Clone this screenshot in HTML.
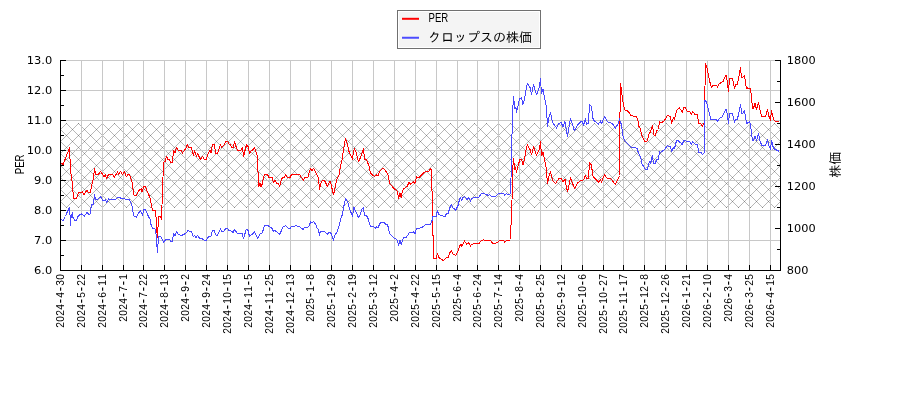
<!DOCTYPE html>
<html lang="ja"><head><meta charset="utf-8"><title>PER クロップスの株価</title>
<style>html,body{margin:0;padding:0;background:#fff}svg{display:block}.yt{font-family:"DejaVu Sans",sans-serif;font-size:11px;fill:#000}.xt{font-family:"Liberation Sans",sans-serif;font-size:11.6px;fill:#000}.lg{font-family:"Liberation Sans","IPAGothic",sans-serif;font-size:13px;fill:#000}.lm{font-family:"Liberation Sans",sans-serif;font-size:12px;fill:#000}</style></head><body>
<svg width="900" height="400" viewBox="0 0 900 400">
<rect x="0" y="0" width="900" height="400" fill="#fff"/>
<defs><clipPath id="hc"><rect x="61" y="123" width="719.5" height="85"/></clipPath><clipPath id="pc"><rect x="60" y="58" width="721" height="213"/></clipPath></defs>
<path d="M-30 123 L55 208 M-18 123 L67 208 M-6 123 L79 208 M6 123 L91 208 M18 123 L103 208 M30 123 L115 208 M42 123 L127 208 M54 123 L139 208 M55 123 L-30 208 M66 123 L151 208 M67 123 L-18 208 M78 123 L163 208 M79 123 L-6 208 M90 123 L175 208 M91 123 L6 208 M102 123 L187 208 M103 123 L18 208 M114 123 L199 208 M115 123 L30 208 M126 123 L211 208 M127 123 L42 208 M138 123 L223 208 M139 123 L54 208 M150 123 L235 208 M151 123 L66 208 M162 123 L247 208 M163 123 L78 208 M174 123 L259 208 M175 123 L90 208 M186 123 L271 208 M187 123 L102 208 M198 123 L283 208 M199 123 L114 208 M210 123 L295 208 M211 123 L126 208 M222 123 L307 208 M223 123 L138 208 M234 123 L319 208 M235 123 L150 208 M246 123 L331 208 M247 123 L162 208 M258 123 L343 208 M259 123 L174 208 M270 123 L355 208 M271 123 L186 208 M282 123 L367 208 M283 123 L198 208 M294 123 L379 208 M295 123 L210 208 M306 123 L391 208 M307 123 L222 208 M318 123 L403 208 M319 123 L234 208 M330 123 L415 208 M331 123 L246 208 M342 123 L427 208 M343 123 L258 208 M354 123 L439 208 M355 123 L270 208 M366 123 L451 208 M367 123 L282 208 M378 123 L463 208 M379 123 L294 208 M390 123 L475 208 M391 123 L306 208 M402 123 L487 208 M403 123 L318 208 M414 123 L499 208 M415 123 L330 208 M426 123 L511 208 M427 123 L342 208 M438 123 L523 208 M439 123 L354 208 M450 123 L535 208 M451 123 L366 208 M462 123 L547 208 M463 123 L378 208 M474 123 L559 208 M475 123 L390 208 M486 123 L571 208 M487 123 L402 208 M498 123 L583 208 M499 123 L414 208 M510 123 L595 208 M511 123 L426 208 M522 123 L607 208 M523 123 L438 208 M534 123 L619 208 M535 123 L450 208 M546 123 L631 208 M547 123 L462 208 M558 123 L643 208 M559 123 L474 208 M570 123 L655 208 M571 123 L486 208 M582 123 L667 208 M583 123 L498 208 M594 123 L679 208 M595 123 L510 208 M606 123 L691 208 M607 123 L522 208 M618 123 L703 208 M619 123 L534 208 M630 123 L715 208 M631 123 L546 208 M642 123 L727 208 M643 123 L558 208 M654 123 L739 208 M655 123 L570 208 M666 123 L751 208 M667 123 L582 208 M678 123 L763 208 M679 123 L594 208 M690 123 L775 208 M691 123 L606 208 M702 123 L787 208 M703 123 L618 208 M714 123 L799 208 M715 123 L630 208 M726 123 L811 208 M727 123 L642 208 M738 123 L823 208 M739 123 L654 208 M750 123 L835 208 M751 123 L666 208 M762 123 L847 208 M763 123 L678 208 M774 123 L859 208 M775 123 L690 208 M786 123 L871 208 M787 123 L702 208 M799 123 L714 208 M811 123 L726 208 M823 123 L738 208 M835 123 L750 208 M847 123 L762 208 M859 123 L774 208 M871 123 L786 208" stroke="#000" stroke-width="0.5" stroke-opacity="0.56" fill="none" clip-path="url(#hc)"/>
<path d="M61 60.5 H780 M61 90.5 H780 M61 120.5 H780 M61 150.5 H780 M61 180.5 H780 M61 210.5 H780 M61 240.5 H780 M81.5 60 V270 M102.5 60 V270 M123.5 60 V270 M143.5 60 V270 M164.5 60 V270 M185.5 60 V270 M206.5 60 V270 M227.5 60 V270 M248.5 60 V270 M269.5 60 V270 M290.5 60 V270 M310.5 60 V270 M331.5 60 V270 M352.5 60 V270 M373.5 60 V270 M394.5 60 V270 M415.5 60 V270 M436.5 60 V270 M457.5 60 V270 M477.5 60 V270 M498.5 60 V270 M519.5 60 V270 M540.5 60 V270 M561.5 60 V270 M582.5 60 V270 M603.5 60 V270 M623.5 60 V270 M644.5 60 V270 M665.5 60 V270 M686.5 60 V270 M707.5 60 V270 M728.5 60 V270 M749.5 60 V270 M770.5 60 V270" stroke="#c8c8c8" stroke-width="1" fill="none" shape-rendering="crispEdges"/>
<g clip-path="url(#pc)" fill="none" stroke-linejoin="round" stroke-linecap="butt" shape-rendering="crispEdges">
<polyline points="60.5,162.5 63,164.5 66,157 68.5,150.5 69,149 69.5,147.5 70,159 70.5,170 71.5,177 72.5,185 73.5,198.5 76.5,198.5 78.5,192.5 82.5,192 84,195 87,190 88,192 90.5,192 91.5,186 93,180 94,173 94.5,168.5 95.5,174 98.5,174 100.5,171.5 102,173.5 104,176.5 105.5,175 106.5,178.5 108.5,174.5 112.5,174.5 114.5,177 117.5,172 118.5,174 120.5,171.5 122.5,174.5 124.5,171.5 126.5,177 128,174.5 129.5,175 131,179 132.5,183 133.5,195 136.5,195 139.5,189.5 141.5,189 142,191.5 144,186.5 145.5,186.5 147.5,192 149.5,196.5 150.5,200 152.5,210 155.5,210 156,216.5 156.5,228 157.5,237.5 158,227 158.5,216.5 160.5,216.5 161.5,219.5 161.7,205 162.5,204.5 163,177 163.5,162.5 165,161.5 166.5,156.5 168,159.5 169.5,159.5 170.5,162.5 172.5,162 173.5,150.5 175,153 176.5,147.5 178.5,150.5 181.5,150.5 182.5,153 185.5,149 187.5,144.5 188.5,147.5 191.5,147.5 193.5,156 194.5,151 196.5,156 197.5,153.5 200.5,159.5 202.5,156.5 204,159 206.5,159 208.5,152.5 210,150.5 211,153 212.5,144.5 214.5,144.5 215.5,153.5 217.5,153.5 220.5,144.5 221.5,147.5 223.5,145.5 226,141.5 227.5,141.5 229,144 230.5,144.5 231.5,147.5 233.5,147.5 234.5,141.5 236.5,148 238,150.5 240.5,150.5 242.5,147.5 243.5,156.5 244.5,152.5 246.5,144.5 248,146.5 249.5,153.5 251,151 252.5,150 254.5,147.5 255.5,150 256.5,153.5 257.5,156.5 258,172 258.5,186.5 260,183.5 261,186.5 262.5,183.5 263.5,177.5 264.5,174.5 267.5,174.5 269,177.5 272,177.5 273.5,183 275,180.5 276.5,183 278.5,184 279.5,186.5 281.5,179.5 282.5,177.5 284.5,177 285.5,174.5 287.5,177.5 290,177.5 291.5,174.5 299.5,174.5 303.5,180.5 304.5,178 308,177.2 309,173 310.5,168.5 312,171 313.5,168.5 315,171 317,175 318.5,178.5 319.5,189.5 320.5,184 322.5,180.5 324.5,180.5 327.5,186.5 330,181 331,184 333.5,195 336.5,180.5 339,175 340.5,166 342,160 344,147 345.5,138.5 347,143 349,151.5 352.5,159.5 353.5,151 354.5,148.5 356.5,153.5 358.5,162 360.5,157.5 363.5,148.5 364.5,159 366.5,159.5 369,166 370.5,173 372,174.5 374.5,176.5 376.5,175 378,175.5 379.5,171.5 383,168 384.5,169.5 386.5,172 388.5,176 389.5,183.5 394.5,189 395.5,189.5 397.5,191.5 398.5,198.5 400,193 401.2,197.5 402.5,191 404,188.5 407,186.5 409,182.5 410.5,184 413.5,182 415,183.5 416.5,176.5 417.5,177.5 419.5,177.2 424,172.5 426.5,171.5 428.5,171.5 431,168.5 431.5,190 432.5,191.5 432.8,235.5 433.5,236 433.5,258.5 436.5,258.5 437.2,253.5 439,257.5 441.5,259.5 443.5,260.5 446.5,257.5 448,258 450,252.5 451.5,250.5 453,254 455.5,255.5 457.5,252.5 459.5,246.5 461,244 461.5,246.5 464.5,241 466.5,244 468.5,242.5 470.5,246 471.5,244.5 474.5,243.5 479,243.5 481,241 483.5,239.5 484.5,240.2 489.5,240.2 491.5,241.5 492.5,243.5 495.5,243.5 498,242 499.5,240.2 503.5,240.2 504.5,242.5 506.5,240.2 510,240 510.5,226 511.5,225.5 512,200 512.5,172 513.5,159 515,170 515.5,167.5 516.5,172.5 518.5,164 520,159.5 521.5,159.5 523,165 524.5,159.5 526.5,147.5 527.5,145 530,149.5 531.5,154.5 533.5,147 536.5,155.5 539.5,148.5 540.5,142 541.5,156 543,152.5 544.5,159.5 546,166.5 547.5,184 548.5,177.5 550.5,171.5 552.5,180.5 555.5,183.5 558.5,179 561,178.5 563,181.5 565,179.5 567.5,192 570.5,177.5 574.5,188.5 577.5,183 580.5,180.5 583.5,180 585.5,175.5 586.5,179 588.5,178.5 589,170 589.8,162.5 591.5,165.5 592.8,175.5 594.5,178.5 595.5,179 598.5,182 600.5,179.5 601.5,182 604.5,174.5 607.5,179 610.5,178.5 615.5,184.5 617,181 618.5,178.5 619.5,175.5 619.7,130 620.5,84 621.5,89.5 622.5,99.5 623.5,105 625,110 626.5,110 629.5,113 630.5,115 632.5,116 635.5,116 637.5,118.5 639,126.5 640,128 642,136 643.5,139 645,141.5 647,141.5 649,134 650.5,132 652.5,125.5 654,135 655.5,135 656.5,131 658.5,129.5 659.5,121.5 661,123 664.5,120.5 667.5,115.5 670.5,116.5 671.5,123.5 673.5,118 674.5,119.5 676.5,110.5 679.5,108 682.5,112.5 683.5,107.5 685.5,107.5 687,111 689.5,111.5 691.5,114 692.5,111.5 695,114.5 697.5,114.5 698.5,124 700.5,123.5 702.5,126.5 703.5,124 704.5,124.5 704.8,94.5 705.5,64 707,68 708.5,75.5 710,82.5 711.5,87.5 713.5,85 716.5,85 717.5,87.5 719,84 723,81.5 725.5,75.5 726.5,75.5 728.5,91.5 729.5,79 732.5,78.5 734.5,88.5 735.5,84.5 737.5,84 740.5,67.5 741.5,78 744.5,75.5 746.5,89 747.5,88 750,88.5 751.5,95 752,102.5 752.7,108.5 753.5,108 755,103.5 756.5,109.5 758.5,102.5 760,110 762,117 763.5,116.5 765.5,116.5 767.5,109.5 768.5,115 770.5,120.5 771.5,110.5 773.5,119.5 775.5,121.5 778.5,121.5 779.5,122.5" stroke="#ff0000" stroke-width="1"/>
<polyline points="60.5,219 63,220.5 65.5,216.5 67,212.5 69.5,207.5 70,215 70.5,225.5 71,218 72.5,212.5 73,217.5 75,220.5 76.5,220 78.5,215.5 81.5,214 82.5,214.5 84.5,216 87,212.5 88.5,214 90,214 91.5,205 93.5,204 94.5,194.5 95.5,199 97,199.5 100.5,197 103.5,201 105.5,200 106.5,202.5 108.5,199 112,199.5 114.5,200 118,197.5 120,197.5 121.5,199 124,198.5 126.5,200 128,199 129.5,200 131,203 132.5,208 133.5,216 135,216 136.5,217 138,214 140.5,210.5 142.5,215 144,209.5 145.5,209.5 147.5,214.5 149,217.5 150,218.5 151,224.5 152.5,228.5 155,229 156,234 156.5,246.5 157.2,245 157.7,253 158.3,237 159,236.5 160.5,236.5 162,239 163.5,242.5 166,239.5 169.5,239.5 171,241.5 172.5,241 173.5,234 175,236 176.5,231.5 178,234 181,235.5 184,234.5 186,233 188,230.5 189.5,231.5 191.5,231.5 193.5,237 194.5,235.5 196,237.5 197.5,235.5 200,239 202,238.5 204,240 206.5,240 209,236 211,236 212.5,230.5 214.5,230.5 215.5,235 217.5,235 220.5,229 222,232 223.5,231.5 226,228.5 227.5,228.5 229,230.5 230.5,230.5 233,232.5 234.5,229.5 237.5,233.5 242,233.5 243.5,238.5 245,233.5 246.3,229 248,230.5 249.5,236.5 251.5,234.5 252.5,234 254.5,231.5 257.5,238.5 260,234 262,233 263,230.5 264.5,225.5 267.5,225.5 269.5,226.5 272,228.5 273.5,231.5 275,230.5 277,232 279.5,234.5 281,231.5 282.5,227.5 285.5,225.5 288.5,228.5 290,228.5 291.5,226.5 294,226.5 296,225.5 297.5,226.5 299.5,226.5 303,229.5 304.5,227.5 307.5,227.5 309.5,225.5 310.5,221.5 312,222.5 313.5,221.5 315.5,224 317,228 318.5,229.5 319.5,235.5 320,232.5 321.5,231.3 324.5,231.3 327.5,234.5 328.5,232.5 330.5,232.5 331.5,234.5 333.5,240.5 334.5,235.5 336.5,233 339.5,225 340.5,219 342.5,214.5 344,205.5 345.5,199 347.5,201.5 349.5,208.5 352.5,216.5 354,207.5 358.5,217.5 360,215 362,209 363.5,207.5 364.5,215.5 366.5,215.5 368,218.5 370.5,226.5 373.5,226.5 375.5,228.5 376.5,226.5 378,227.5 380,223.5 382,222 383.5,222 385.5,224 387,224.5 388.5,227.5 389.5,233.5 394,238 396,239 397.5,240.5 398.5,245.5 400,240.5 401.2,244.5 402.5,240 404,237.5 406.5,237 409.5,232.5 411.5,233 413.5,232 415,233.5 416.5,228.5 419,228.5 422.5,227 425,225 427,224.5 428.5,225 430.5,224 431.8,221.5 433,216 436,216.5 437.5,210.5 439,214.5 441.5,215.5 445,216.5 446.5,213.5 448,213.5 450,207.5 451.5,204.5 453,208 454.5,208.5 455.5,210.5 458,205.5 459.5,199.5 460.5,197.5 461.5,201 463,197.5 464.5,196.5 467,199.5 468.5,197.5 470.5,201 471.5,198.5 475,197.2 479,197.2 481,194 483,193.2 486.5,194.5 488.5,195.5 489.5,194.5 491.5,196.5 495.5,196.5 498.5,193.5 503.5,193.5 504.5,195 506.5,193.5 507.5,194.5 510.5,194 510.8,178 511.5,177.5 512,135 512.5,113.5 513.5,97 515,109 516,107.5 516.5,112.5 518.5,103.5 519.5,99 521.5,97.5 523,104.5 524.5,99 526.5,86.5 527.5,83.5 530,87.5 531.5,94.5 533.5,84.5 536.5,95 538,91 539.5,86 540.5,79 541.5,93.5 543,89.5 544.5,97.5 546.5,108 547.5,127 548.5,119 550.5,112.5 552.5,122.5 556.5,128 558.5,124 561,122 563,127 565,121.5 567.5,136.5 570.5,118.5 574.5,131 577.5,125 580.5,122 582,121.5 583.5,125 585.5,119 586.5,124.5 588.5,123 589,113.5 589.5,104.5 591.5,106.5 593,118.5 594.5,121.5 595.5,121.5 598.5,124 600.5,121 601.5,124 604.5,116.5 607.5,122 610.5,122.5 612.5,124 615.5,128 618.5,123 619.7,118.5 620.5,124 621.5,123.5 622.5,134.5 623.5,138 625,141 626.5,142.5 630,146 632.5,148 634.5,147.5 637,148.5 638.5,153 640.5,157 642,164 644.5,168 645.5,169.5 647.5,169.5 648.5,164 649.5,162 650.5,163.5 652.5,155.5 653.5,163.5 655.5,163.5 656.5,159.5 658.5,159.5 659.5,151.5 660.5,152.5 664.5,149.5 667.5,145.5 669,146.5 670.5,146.5 671.5,152 673.5,147.5 674.5,148.5 676.5,140.5 678,140.5 679.5,142 680.5,142 682,144.5 684,140.5 685.5,140.5 686.5,142 689.5,141.5 691.5,144 692.5,142 695.5,144.5 697.5,144.5 698.5,152 700.5,152 702.5,154.5 704.5,152.5 704.7,125 705,100 706.5,102 708,108 709.5,114 711,120 712.5,119.5 716.5,119.5 717.5,121.5 719.5,118.5 722.5,116.5 725.5,109.5 726.5,110 728.5,123.5 729.5,113.5 732.5,113.5 734.5,122.5 735.5,119 737.5,119 740.5,104.5 742,114 744.5,111 746.5,123.5 749.5,122 750.5,124.5 751.5,134 752.5,140 753.5,140 755,136 756.5,141 758.5,133.5 760,141 762,146 765.5,145.5 767.5,139.5 768.5,144.5 770.5,149 771.5,140.5 773.5,148.5 775.5,149.5 779.5,151.5" stroke="#4848ff" stroke-width="1"/>
</g>
<path d="M60.5 60 V271 M780.5 60 V271 M60 270.5 H781 M61 60.5 H66 M61 90.5 H66 M61 120.5 H66 M61 150.5 H66 M61 180.5 H66 M61 210.5 H66 M61 240.5 H66 M61 270.5 H66 M61 75.5 H64 M61 105.5 H64 M61 135.5 H64 M61 165.5 H64 M61 195.5 H64 M61 225.5 H64 M61 255.5 H64 M775 60.5 H780 M775 102.5 H780 M775 144.5 H780 M775 186.5 H780 M775 228.5 H780 M775 270.5 H780 M777 81.5 H780 M777 123.5 H780 M777 165.5 H780 M777 207.5 H780 M777 249.5 H780 M60.5 265 V270 M81.5 265 V270 M102.5 265 V270 M123.5 265 V270 M143.5 265 V270 M164.5 265 V270 M185.5 265 V270 M206.5 265 V270 M227.5 265 V270 M248.5 265 V270 M269.5 265 V270 M290.5 265 V270 M310.5 265 V270 M331.5 265 V270 M352.5 265 V270 M373.5 265 V270 M394.5 265 V270 M415.5 265 V270 M436.5 265 V270 M457.5 265 V270 M477.5 265 V270 M498.5 265 V270 M519.5 265 V270 M540.5 265 V270 M561.5 265 V270 M582.5 265 V270 M603.5 265 V270 M623.5 265 V270 M644.5 265 V270 M665.5 265 V270 M686.5 265 V270 M707.5 265 V270 M728.5 265 V270 M749.5 265 V270 M770.5 265 V270" stroke="#000" stroke-width="1" fill="none" shape-rendering="crispEdges"/>
<text class="yt" transform="translate(52.2,64) scale(1.04,1)" text-anchor="end">13.0</text>
<text class="yt" transform="translate(52.2,94) scale(1.04,1)" text-anchor="end">12.0</text>
<text class="yt" transform="translate(52.2,124) scale(1.04,1)" text-anchor="end">11.0</text>
<text class="yt" transform="translate(52.2,154) scale(1.04,1)" text-anchor="end">10.0</text>
<text class="yt" transform="translate(52.2,184) scale(1.04,1)" text-anchor="end">9.0</text>
<text class="yt" transform="translate(52.2,214) scale(1.04,1)" text-anchor="end">8.0</text>
<text class="yt" transform="translate(52.2,244) scale(1.04,1)" text-anchor="end">7.0</text>
<text class="yt" transform="translate(52.2,274) scale(1.04,1)" text-anchor="end">6.0</text>
<text class="yt" transform="translate(786.8,64) scale(1.03,1)">1800</text>
<text class="yt" transform="translate(786.8,106) scale(1.03,1)">1600</text>
<text class="yt" transform="translate(786.8,148) scale(1.03,1)">1400</text>
<text class="yt" transform="translate(786.8,190) scale(1.03,1)">1200</text>
<text class="yt" transform="translate(786.8,232) scale(1.03,1)">1000</text>
<text class="yt" transform="translate(786.8,274) scale(1.03,1)">800</text>
<text class="xt" transform="translate(63.7,274) rotate(-90) scale(0.88,1)" text-anchor="middle" x="-57.95 -51.14 -44.32 -37.50 -30.68 -23.86 -17.05 -10.23 -3.41">2024<tspan font-size="15" dy="0.9">-</tspan><tspan dy="-0.9">4</tspan><tspan font-size="15" dy="0.9">-</tspan><tspan dy="-0.9">30</tspan></text>
<text class="xt" transform="translate(84.7,274) rotate(-90) scale(0.88,1)" text-anchor="middle" x="-57.95 -51.14 -44.32 -37.50 -30.68 -23.86 -17.05 -10.23 -3.41">2024<tspan font-size="15" dy="0.9">-</tspan><tspan dy="-0.9">5</tspan><tspan font-size="15" dy="0.9">-</tspan><tspan dy="-0.9">22</tspan></text>
<text class="xt" transform="translate(105.7,274) rotate(-90) scale(0.88,1)" text-anchor="middle" x="-57.95 -51.14 -44.32 -37.50 -30.68 -23.86 -17.05 -10.23 -3.41">2024<tspan font-size="15" dy="0.9">-</tspan><tspan dy="-0.9">6</tspan><tspan font-size="15" dy="0.9">-</tspan><tspan dy="-0.9">11</tspan></text>
<text class="xt" transform="translate(126.7,274) rotate(-90) scale(0.88,1)" text-anchor="middle" x="-51.14 -44.32 -37.50 -30.68 -23.86 -17.05 -10.23 -3.41">2024<tspan font-size="15" dy="0.9">-</tspan><tspan dy="-0.9">7</tspan><tspan font-size="15" dy="0.9">-</tspan><tspan dy="-0.9">1</tspan></text>
<text class="xt" transform="translate(146.7,274) rotate(-90) scale(0.88,1)" text-anchor="middle" x="-57.95 -51.14 -44.32 -37.50 -30.68 -23.86 -17.05 -10.23 -3.41">2024<tspan font-size="15" dy="0.9">-</tspan><tspan dy="-0.9">7</tspan><tspan font-size="15" dy="0.9">-</tspan><tspan dy="-0.9">22</tspan></text>
<text class="xt" transform="translate(167.7,274) rotate(-90) scale(0.88,1)" text-anchor="middle" x="-57.95 -51.14 -44.32 -37.50 -30.68 -23.86 -17.05 -10.23 -3.41">2024<tspan font-size="15" dy="0.9">-</tspan><tspan dy="-0.9">8</tspan><tspan font-size="15" dy="0.9">-</tspan><tspan dy="-0.9">13</tspan></text>
<text class="xt" transform="translate(188.7,274) rotate(-90) scale(0.88,1)" text-anchor="middle" x="-51.14 -44.32 -37.50 -30.68 -23.86 -17.05 -10.23 -3.41">2024<tspan font-size="15" dy="0.9">-</tspan><tspan dy="-0.9">9</tspan><tspan font-size="15" dy="0.9">-</tspan><tspan dy="-0.9">2</tspan></text>
<text class="xt" transform="translate(209.7,274) rotate(-90) scale(0.88,1)" text-anchor="middle" x="-57.95 -51.14 -44.32 -37.50 -30.68 -23.86 -17.05 -10.23 -3.41">2024<tspan font-size="15" dy="0.9">-</tspan><tspan dy="-0.9">9</tspan><tspan font-size="15" dy="0.9">-</tspan><tspan dy="-0.9">24</tspan></text>
<text class="xt" transform="translate(230.7,274) rotate(-90) scale(0.88,1)" text-anchor="middle" x="-64.77 -57.95 -51.14 -44.32 -37.50 -30.68 -23.86 -17.05 -10.23 -3.41">2024<tspan font-size="15" dy="0.9">-</tspan><tspan dy="-0.9">10</tspan><tspan font-size="15" dy="0.9">-</tspan><tspan dy="-0.9">15</tspan></text>
<text class="xt" transform="translate(251.7,274) rotate(-90) scale(0.88,1)" text-anchor="middle" x="-57.95 -51.14 -44.32 -37.50 -30.68 -23.86 -17.05 -10.23 -3.41">2024<tspan font-size="15" dy="0.9">-</tspan><tspan dy="-0.9">11</tspan><tspan font-size="15" dy="0.9">-</tspan><tspan dy="-0.9">5</tspan></text>
<text class="xt" transform="translate(272.7,274) rotate(-90) scale(0.88,1)" text-anchor="middle" x="-64.77 -57.95 -51.14 -44.32 -37.50 -30.68 -23.86 -17.05 -10.23 -3.41">2024<tspan font-size="15" dy="0.9">-</tspan><tspan dy="-0.9">11</tspan><tspan font-size="15" dy="0.9">-</tspan><tspan dy="-0.9">25</tspan></text>
<text class="xt" transform="translate(293.7,274) rotate(-90) scale(0.88,1)" text-anchor="middle" x="-64.77 -57.95 -51.14 -44.32 -37.50 -30.68 -23.86 -17.05 -10.23 -3.41">2024<tspan font-size="15" dy="0.9">-</tspan><tspan dy="-0.9">12</tspan><tspan font-size="15" dy="0.9">-</tspan><tspan dy="-0.9">13</tspan></text>
<text class="xt" transform="translate(313.7,274) rotate(-90) scale(0.88,1)" text-anchor="middle" x="-51.14 -44.32 -37.50 -30.68 -23.86 -17.05 -10.23 -3.41">2025<tspan font-size="15" dy="0.9">-</tspan><tspan dy="-0.9">1</tspan><tspan font-size="15" dy="0.9">-</tspan><tspan dy="-0.9">8</tspan></text>
<text class="xt" transform="translate(334.7,274) rotate(-90) scale(0.88,1)" text-anchor="middle" x="-57.95 -51.14 -44.32 -37.50 -30.68 -23.86 -17.05 -10.23 -3.41">2025<tspan font-size="15" dy="0.9">-</tspan><tspan dy="-0.9">1</tspan><tspan font-size="15" dy="0.9">-</tspan><tspan dy="-0.9">29</tspan></text>
<text class="xt" transform="translate(355.7,274) rotate(-90) scale(0.88,1)" text-anchor="middle" x="-57.95 -51.14 -44.32 -37.50 -30.68 -23.86 -17.05 -10.23 -3.41">2025<tspan font-size="15" dy="0.9">-</tspan><tspan dy="-0.9">2</tspan><tspan font-size="15" dy="0.9">-</tspan><tspan dy="-0.9">19</tspan></text>
<text class="xt" transform="translate(376.7,274) rotate(-90) scale(0.88,1)" text-anchor="middle" x="-57.95 -51.14 -44.32 -37.50 -30.68 -23.86 -17.05 -10.23 -3.41">2025<tspan font-size="15" dy="0.9">-</tspan><tspan dy="-0.9">3</tspan><tspan font-size="15" dy="0.9">-</tspan><tspan dy="-0.9">12</tspan></text>
<text class="xt" transform="translate(397.7,274) rotate(-90) scale(0.88,1)" text-anchor="middle" x="-51.14 -44.32 -37.50 -30.68 -23.86 -17.05 -10.23 -3.41">2025<tspan font-size="15" dy="0.9">-</tspan><tspan dy="-0.9">4</tspan><tspan font-size="15" dy="0.9">-</tspan><tspan dy="-0.9">2</tspan></text>
<text class="xt" transform="translate(418.7,274) rotate(-90) scale(0.88,1)" text-anchor="middle" x="-57.95 -51.14 -44.32 -37.50 -30.68 -23.86 -17.05 -10.23 -3.41">2025<tspan font-size="15" dy="0.9">-</tspan><tspan dy="-0.9">4</tspan><tspan font-size="15" dy="0.9">-</tspan><tspan dy="-0.9">22</tspan></text>
<text class="xt" transform="translate(439.7,274) rotate(-90) scale(0.88,1)" text-anchor="middle" x="-57.95 -51.14 -44.32 -37.50 -30.68 -23.86 -17.05 -10.23 -3.41">2025<tspan font-size="15" dy="0.9">-</tspan><tspan dy="-0.9">5</tspan><tspan font-size="15" dy="0.9">-</tspan><tspan dy="-0.9">15</tspan></text>
<text class="xt" transform="translate(460.7,274) rotate(-90) scale(0.88,1)" text-anchor="middle" x="-51.14 -44.32 -37.50 -30.68 -23.86 -17.05 -10.23 -3.41">2025<tspan font-size="15" dy="0.9">-</tspan><tspan dy="-0.9">6</tspan><tspan font-size="15" dy="0.9">-</tspan><tspan dy="-0.9">4</tspan></text>
<text class="xt" transform="translate(480.7,274) rotate(-90) scale(0.88,1)" text-anchor="middle" x="-57.95 -51.14 -44.32 -37.50 -30.68 -23.86 -17.05 -10.23 -3.41">2025<tspan font-size="15" dy="0.9">-</tspan><tspan dy="-0.9">6</tspan><tspan font-size="15" dy="0.9">-</tspan><tspan dy="-0.9">24</tspan></text>
<text class="xt" transform="translate(501.7,274) rotate(-90) scale(0.88,1)" text-anchor="middle" x="-57.95 -51.14 -44.32 -37.50 -30.68 -23.86 -17.05 -10.23 -3.41">2025<tspan font-size="15" dy="0.9">-</tspan><tspan dy="-0.9">7</tspan><tspan font-size="15" dy="0.9">-</tspan><tspan dy="-0.9">14</tspan></text>
<text class="xt" transform="translate(522.7,274) rotate(-90) scale(0.88,1)" text-anchor="middle" x="-51.14 -44.32 -37.50 -30.68 -23.86 -17.05 -10.23 -3.41">2025<tspan font-size="15" dy="0.9">-</tspan><tspan dy="-0.9">8</tspan><tspan font-size="15" dy="0.9">-</tspan><tspan dy="-0.9">4</tspan></text>
<text class="xt" transform="translate(543.7,274) rotate(-90) scale(0.88,1)" text-anchor="middle" x="-57.95 -51.14 -44.32 -37.50 -30.68 -23.86 -17.05 -10.23 -3.41">2025<tspan font-size="15" dy="0.9">-</tspan><tspan dy="-0.9">8</tspan><tspan font-size="15" dy="0.9">-</tspan><tspan dy="-0.9">25</tspan></text>
<text class="xt" transform="translate(564.7,274) rotate(-90) scale(0.88,1)" text-anchor="middle" x="-57.95 -51.14 -44.32 -37.50 -30.68 -23.86 -17.05 -10.23 -3.41">2025<tspan font-size="15" dy="0.9">-</tspan><tspan dy="-0.9">9</tspan><tspan font-size="15" dy="0.9">-</tspan><tspan dy="-0.9">12</tspan></text>
<text class="xt" transform="translate(585.7,274) rotate(-90) scale(0.88,1)" text-anchor="middle" x="-57.95 -51.14 -44.32 -37.50 -30.68 -23.86 -17.05 -10.23 -3.41">2025<tspan font-size="15" dy="0.9">-</tspan><tspan dy="-0.9">10</tspan><tspan font-size="15" dy="0.9">-</tspan><tspan dy="-0.9">6</tspan></text>
<text class="xt" transform="translate(606.7,274) rotate(-90) scale(0.88,1)" text-anchor="middle" x="-64.77 -57.95 -51.14 -44.32 -37.50 -30.68 -23.86 -17.05 -10.23 -3.41">2025<tspan font-size="15" dy="0.9">-</tspan><tspan dy="-0.9">10</tspan><tspan font-size="15" dy="0.9">-</tspan><tspan dy="-0.9">27</tspan></text>
<text class="xt" transform="translate(626.7,274) rotate(-90) scale(0.88,1)" text-anchor="middle" x="-64.77 -57.95 -51.14 -44.32 -37.50 -30.68 -23.86 -17.05 -10.23 -3.41">2025<tspan font-size="15" dy="0.9">-</tspan><tspan dy="-0.9">11</tspan><tspan font-size="15" dy="0.9">-</tspan><tspan dy="-0.9">17</tspan></text>
<text class="xt" transform="translate(647.7,274) rotate(-90) scale(0.88,1)" text-anchor="middle" x="-57.95 -51.14 -44.32 -37.50 -30.68 -23.86 -17.05 -10.23 -3.41">2025<tspan font-size="15" dy="0.9">-</tspan><tspan dy="-0.9">12</tspan><tspan font-size="15" dy="0.9">-</tspan><tspan dy="-0.9">8</tspan></text>
<text class="xt" transform="translate(668.7,274) rotate(-90) scale(0.88,1)" text-anchor="middle" x="-64.77 -57.95 -51.14 -44.32 -37.50 -30.68 -23.86 -17.05 -10.23 -3.41">2025<tspan font-size="15" dy="0.9">-</tspan><tspan dy="-0.9">12</tspan><tspan font-size="15" dy="0.9">-</tspan><tspan dy="-0.9">26</tspan></text>
<text class="xt" transform="translate(689.7,274) rotate(-90) scale(0.88,1)" text-anchor="middle" x="-57.95 -51.14 -44.32 -37.50 -30.68 -23.86 -17.05 -10.23 -3.41">2026<tspan font-size="15" dy="0.9">-</tspan><tspan dy="-0.9">1</tspan><tspan font-size="15" dy="0.9">-</tspan><tspan dy="-0.9">21</tspan></text>
<text class="xt" transform="translate(710.7,274) rotate(-90) scale(0.88,1)" text-anchor="middle" x="-57.95 -51.14 -44.32 -37.50 -30.68 -23.86 -17.05 -10.23 -3.41">2026<tspan font-size="15" dy="0.9">-</tspan><tspan dy="-0.9">2</tspan><tspan font-size="15" dy="0.9">-</tspan><tspan dy="-0.9">10</tspan></text>
<text class="xt" transform="translate(731.7,274) rotate(-90) scale(0.88,1)" text-anchor="middle" x="-51.14 -44.32 -37.50 -30.68 -23.86 -17.05 -10.23 -3.41">2026<tspan font-size="15" dy="0.9">-</tspan><tspan dy="-0.9">3</tspan><tspan font-size="15" dy="0.9">-</tspan><tspan dy="-0.9">4</tspan></text>
<text class="xt" transform="translate(752.7,274) rotate(-90) scale(0.88,1)" text-anchor="middle" x="-57.95 -51.14 -44.32 -37.50 -30.68 -23.86 -17.05 -10.23 -3.41">2026<tspan font-size="15" dy="0.9">-</tspan><tspan dy="-0.9">3</tspan><tspan font-size="15" dy="0.9">-</tspan><tspan dy="-0.9">25</tspan></text>
<text class="xt" transform="translate(773.7,274) rotate(-90) scale(0.88,1)" text-anchor="middle" x="-57.95 -51.14 -44.32 -37.50 -30.68 -23.86 -17.05 -10.23 -3.41">2026<tspan font-size="15" dy="0.9">-</tspan><tspan dy="-0.9">4</tspan><tspan font-size="15" dy="0.9">-</tspan><tspan dy="-0.9">15</tspan></text>
<text class="lm" transform="translate(24,174.3) rotate(-90) scale(0.8,1)" text-anchor="middle" x="4.06 12.19 20.31">PER</text>
<text class="lg" transform="translate(840,164.8) rotate(-90)" text-anchor="middle">株価</text>
<rect x="397.5" y="10.5" width="143" height="38" fill="#f4f4f4" stroke="#707070" stroke-width="1" shape-rendering="crispEdges"/>
<rect x="398.5" y="11.5" width="141" height="36" fill="none" stroke="#ffffff" stroke-width="1" shape-rendering="crispEdges"/>
<path d="M402 18.8 H419" stroke="#ff0000" stroke-width="2" fill="none"/>
<path d="M402 37.75 H419" stroke="#4c4cff" stroke-width="2" fill="none"/>
<text class="lm" transform="translate(428.5,21.8) scale(0.8,1)" text-anchor="middle" x="4.06 12.19 20.31">PER</text>
<text class="lg" x="428" y="41.7">クロップスの株価</text>
</svg></body></html>
